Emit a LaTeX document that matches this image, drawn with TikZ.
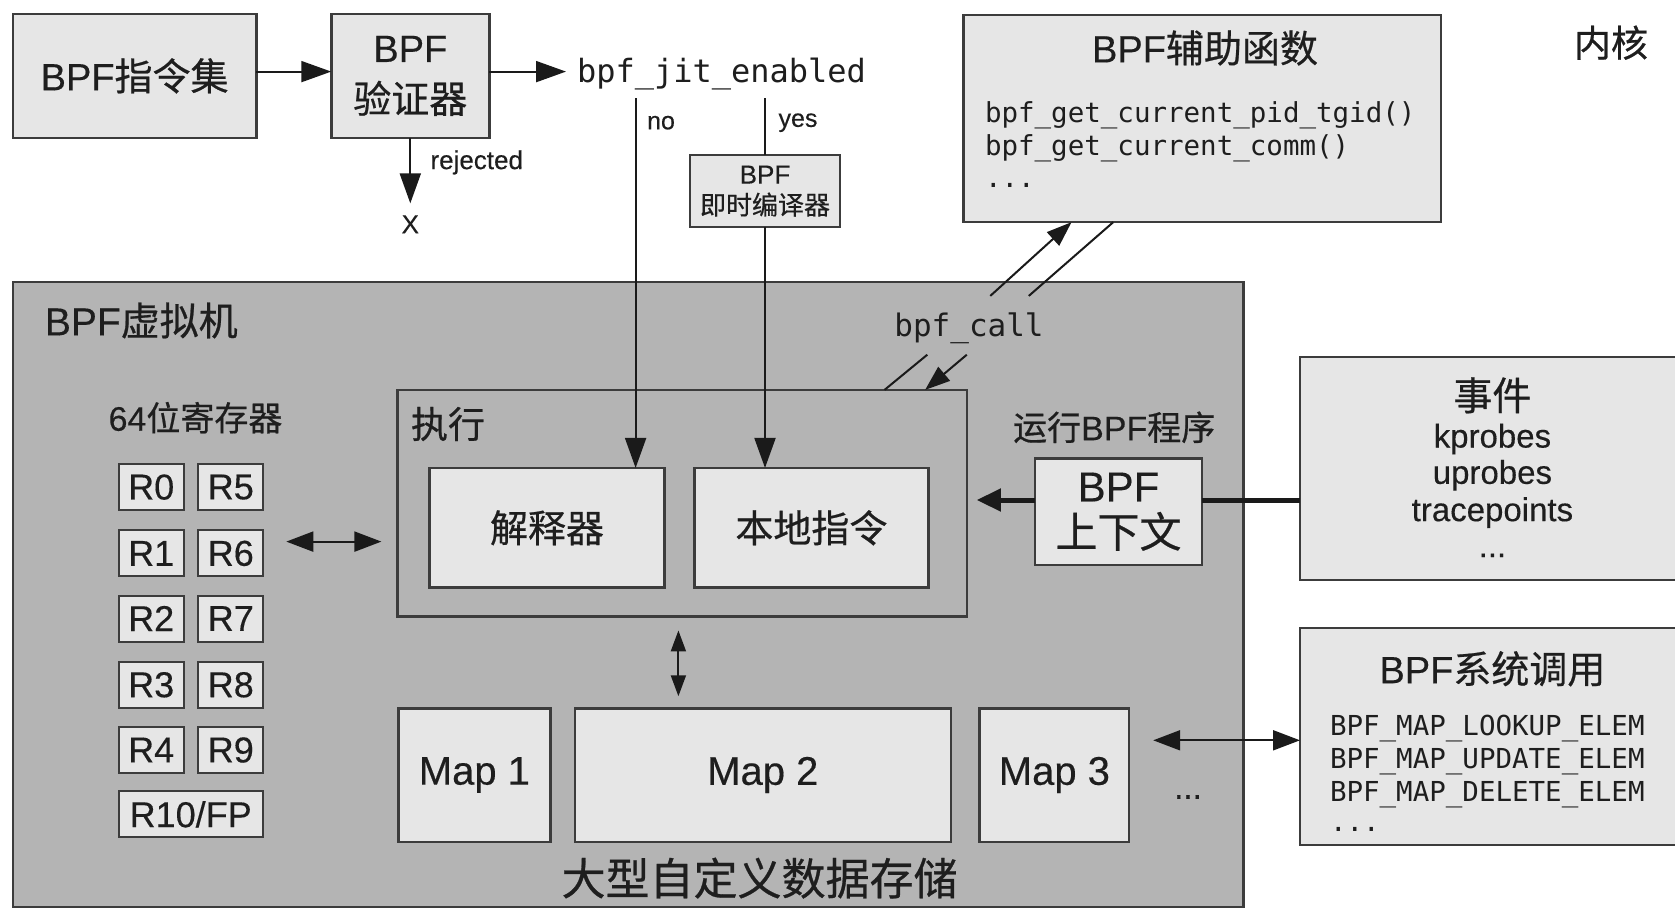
\documentclass[tikz,border=0pt]{standalone}
\usepackage{fontspec}
\setmainfont{Liberation Sans}[FakeBold=0.3]
\setmonofont{DejaVu Sans Mono}
\newfontfamily\cjk{Noto Sans CJK SC}[FakeBold=0.6]
\usetikzlibrary{arrows.meta}
\newcommand\zh[1]{{\cjk #1}}
\newcommand\fsz[2]{\fontsize{#1}{#2}\selectfont}
\newcommand\msz[2]{\fontsize{#1}{#2}\ttfamily}
\definecolor{lightc}{HTML}{E6E6E6}
\definecolor{vmc}{HTML}{B4B4B4}
\definecolor{bordc}{HTML}{3C3C3C}
\definecolor{txtc}{HTML}{1E1E1E}
\definecolor{linec}{HTML}{1A1A1A}
\begin{document}
\begin{tikzpicture}[x=1pt,y=-1pt,
  box/.style={draw=bordc, line width=2.5pt, fill=lightc, inner sep=0pt, outer sep=0pt, text=txtc, align=center},
  vmbox/.style={draw=bordc, line width=2.5pt, fill=vmc, inner sep=0pt, outer sep=0pt},
  reg/.style={box, line width=2pt, minimum width=65pt, minimum height=46pt, font=\fsz{36}{40}},
  mapbox/.style={box, minimum height=133.5pt, font=\fsz{40}{46}},
  lbl/.style={inner sep=0pt, outer sep=0pt, text=txtc},
  mono/.style={lbl, font=\msz{27.5}{33}},
  thin/.style={line width=2pt, draw=linec},
  conn/.style={thin, -{Triangle[length=30pt,width=21pt]}},
  conns/.style={thin, -{Triangle[length=25pt,width=18pt]}},
  dconn/.style={thin, {Triangle[length=27pt,width=20pt]}-{Triangle[length=27pt,width=20pt]}},
  dconns/.style={thin, {Triangle[length=21pt,width=15pt]}-{Triangle[length=21pt,width=15pt]}},
  thick/.style={line width=5pt, draw=linec}
]
\useasboundingbox (0,0) rectangle (1675,909);
\fill[white] (0,0) rectangle (1675,909);

% top row
\node[box, minimum width=243.6pt, minimum height=123.9pt, font=\fsz{38}{46}] (isa) at (134.6,75.9) {BPF\zh{指令集}};
\node[box, minimum width=158.1pt, minimum height=123.9pt, font=\fsz{38}{51}] (ver) at (410.3,75.9) {BPF\\\zh{验证器}};
\node[lbl, anchor=west, font=\msz{32}{36}] (jit) at (577,74.5) {bpf\_jit\_enabled};
\node[lbl, font=\fsz{26}{30}] (rej) at (410.3,224.3) {X};
\node[lbl, anchor=west, font=\fsz{26}{30}] (rejl) at (430.5,162.4) {rejected};
\node[lbl, font=\fsz{25}{30}] (nol) at (661,122.7) {no};
\node[lbl, font=\fsz{25}{30}] (yesl) at (798,122.7) {yes};

% helper functions
\node[box, minimum width=477.5pt, minimum height=207.2pt] (helper) at (1202.4,118.6) {};
\node[lbl, font=\fsz{38}{44}] (helpert) at (1205,48) {BPF\zh{辅助函数}};
\node[mono, anchor=west] (h1) at (985,115.5) {bpf\_get\_current\_pid\_tgid()};
\node[mono, anchor=west] (h2) at (985,148.6) {bpf\_get\_current\_comm()};
\node[mono, anchor=west] (h3) at (985,185) {...};
\node[lbl, font=\fsz{37}{44}] (kern) at (1611,42.7) {\zh{内核}};

% virtual machine
\node[vmbox, minimum width=1230.7pt, minimum height=625pt] (vm) at (628.2,594.5) {};
\node[lbl, anchor=west, font=\fsz{39}{44}] (vmt) at (44.9,320.5) {BPF\zh{虚拟机}};
\node[lbl, font=\msz{31}{36}] (call) at (969,328) {bpf\_call};

\node[box, minimum width=150.6pt, minimum height=72.6pt, line width=2pt, font=\fsz{26}{31}] (jitc) at (765,191.2) {BPF\\\zh{即时编译器}};

\node[vmbox, minimum width=569.4pt, minimum height=226.5pt] (exec) at (682.1,503.2) {};
\node[lbl, anchor=west, font=\fsz{37}{44}] (exect) at (411,424) {\zh{执行}};
\node[box, minimum width=235pt, minimum height=119.7pt, font=\fsz{38}{44}] (interp) at (547,527.8) {\zh{解释器}};
\node[box, minimum width=234pt, minimum height=119.7pt, font=\fsz{38}{44}] (native) at (811.4,527.8) {\zh{本地指令}};

\node[lbl, font=\fsz{34}{40}] (regt) at (195.5,417.7) {64\zh{位寄存器}};
\node[reg] (r0) at (151.2,487.1) {R0};
\node[reg] (r5) at (230.8,487.1) {R5};
\node[reg] (r1) at (151.2,553.4) {R1};
\node[reg] (r6) at (230.8,553.4) {R6};
\node[reg] (r2) at (151.2,618.5) {R2};
\node[reg] (r7) at (230.8,618.5) {R7};
\node[reg] (r3) at (151.2,684.8) {R3};
\node[reg] (r8) at (230.8,684.8) {R8};
\node[reg] (r4) at (151.2,750.0) {R4};
\node[reg] (r9) at (230.8,750.0) {R9};
\node[reg, minimum width=144.2pt] (r10) at (190.7,814.3) {R10/FP};

\node[lbl, font=\fsz{34}{40}] (runt) at (1114.2,427.3) {\zh{运行}BPF\zh{程序}};
\node[box, minimum width=166.6pt, minimum height=106.8pt, font=\fsz{42}{46}] (ctx) at (1118.5,511.7) {BPF\\\zh{上下文}};

\node[mapbox, minimum width=151.7pt] (map1) at (474.4,775) {Map 1};
\node[mapbox, minimum width=376.1pt] (map2) at (762.8,775) {Map 2};
\node[mapbox, minimum width=149.6pt] (map3) at (1054.4,775) {Map 3};
\node[lbl, font=\fsz{33}{40}] (mdots) at (1188,797) {...};
\node[lbl, font=\fsz{44}{50}] (store) at (759.6,878.1) {\zh{大型自定义数据存储}};

% events
\node[box, minimum width=390pt, minimum height=223.3pt] (events) at (1495,468.5) {};
\node[lbl, font=\fsz{39}{44}] (evt) at (1492.4,395.3) {\zh{事件}};
\node[lbl, font=\fsz{33}{38}] (ev1) at (1492.4,439) {kprobes};
\node[lbl, font=\fsz{33}{38}] (ev2) at (1492.4,475.3) {uprobes};
\node[lbl, font=\fsz{33}{38}] (ev3) at (1492.4,512.6) {tracepoints};
\node[lbl, font=\fsz{33}{38}] (ev4) at (1492.4,555.4) {...};

% syscalls
\node[box, minimum width=390pt, minimum height=216.8pt] (sys) at (1495,736.6) {};
\node[lbl, font=\fsz{38}{44}] (syst) at (1492.4,668.8) {BPF\zh{系统调用}};
\node[mono, anchor=west] (s1) at (1330,728.4) {BPF\_MAP\_LOOKUP\_ELEM};
\node[mono, anchor=west] (s2) at (1330,761.5) {BPF\_MAP\_UPDATE\_ELEM};
\node[mono, anchor=west] (s3) at (1330,794.6) {BPF\_MAP\_DELETE\_ELEM};
\node[mono, anchor=west] (s4) at (1330,829) {...};

% coordinates
\coordinate (ay) at (0,71.6);
\coordinate (nos) at (635.6,98.3);
\coordinate (yess) at (765,98.3);
\coordinate (c1a) at (990.3,295.9);
\coordinate (c1b) at (1071.5,222.2);
\coordinate (c2a) at (1028.8,295.9);
\coordinate (c2b) at (1113.2,222.2);
\coordinate (c3a) at (927.3,354.7);
\coordinate (c3b) at (884.5,389.9);
\coordinate (c4a) at (966.8,354.7);
\coordinate (c4b) at (925.1,389.9);
\coordinate (ra) at (286.3,541.6);
\coordinate (cy) at (0,500);
\coordinate (vx) at (678.4,0);
\coordinate (sy) at (0,740.3);

% connectors
\draw[conn] (isa.east |- ay) -- (ver.west |- ay);
\draw[conn, shorten >=11pt] (ver.east |- ay) -- (jit.west |- ay);
\draw[conn, shorten >=12pt] (ver.south) -- (rej.north);
\draw[conn] (nos) -- (nos |- interp.north);
\draw[thin] (yess) -- (jitc.north);
\draw[conn] (jitc.south) -- (jitc.south |- native.north);
\draw[conns] (c1a) -- (c1b);
\draw[thin] (c2a) -- (c2b);
\draw[thin] (c3a) -- (c3b);
\draw[conns] (c4a) -- (c4b);
\draw[dconn, shorten >=16pt] (ra) -- (ra -| exec.west);
\draw[thick, -{Triangle[length=24pt,width=22pt]}, shorten >=10pt] (ctx.west |- cy) -- (exec.east |- cy);
\draw[thick] (ctx.east |- cy) -- (events.west |- cy);
\draw[dconns, shorten <=14pt, shorten >=12pt] (exec.south -| vx) -- (map2.north -| vx);
\draw[dconn, shorten <=24pt] (map3.east |- sy) -- (sys.west |- sy);
\end{tikzpicture}
\end{document}
